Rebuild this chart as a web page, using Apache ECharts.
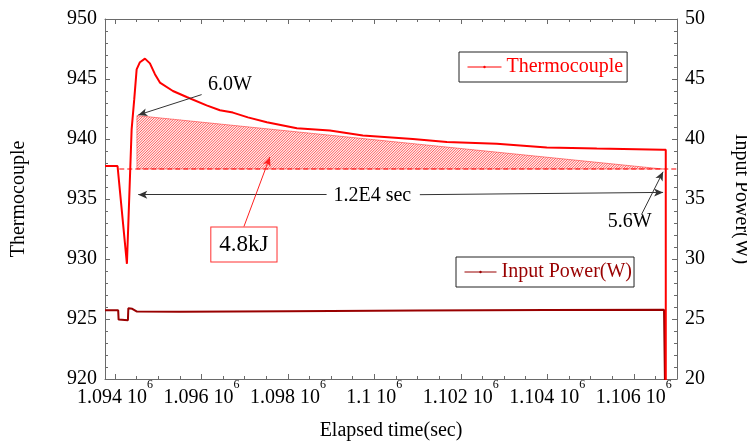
<!DOCTYPE html>
<html>
<head>
<meta charset="utf-8">
<script src="https://cdn.jsdelivr.net/npm/echarts@6/dist/echarts.min.js"></script>
<style>
  html, body { margin: 0; padding: 0; background: #fff; }
  #main { width: 747px; height: 445px; }
</style>
</head>
<body>
<div id="main"></div>
<script>
// thermocouple reading (time in s, temperature)
var thermoTime = [1093770, 1094060, 1094085, 1094277, 1094386, 1094446, 1094502, 1094578, 1094694, 1094809,
    1094925, 1095040, 1095341, 1095658, 1096120, 1096428, 1096728, 1097075, 1097514, 1098208, 1098971,
    1099734, 1100890, 1101676, 1102832, 1103988, 1105145, 1106671, 1106740, 1106742];
var thermoTemp = [937.75, 937.75, 937.6, 929.6, 940.8, 943.3, 945.8, 946.4, 946.7, 946.3,
    945.4, 944.7, 944.0, 943.5, 942.8, 942.4, 942.2, 941.8, 941.4, 940.9, 940.7,
    940.3, 940.0, 939.75, 939.6, 939.3, 939.2, 939.1, 939.1, 900];

// input power (time in s, W)
var powerTime = [1093770, 1094075, 1094085, 1094300, 1094310, 1094400, 1094510, 1095500, 1098000, 1101000, 1104000, 1106700, 1106740, 1106742];
var powerVal = [25.72, 25.72, 24.95, 24.9, 25.9, 25.85, 25.62, 25.6, 25.65, 25.7, 25.74, 25.77, 25.77, 14];

// hatched energy region
var hatchTime = [1094509, 1094509, 1106671];
var hatchTemp = [937.5, 941.95, 937.5];
var baseTime = [1094100, 1107000];
var baseTemp = [937.5, 937.5];

// axis ticks
var xMajor = [1094000, 1096000, 1098000, 1100000, 1102000, 1104000, 1106000];
var xMajorLabels = ['1.094', '1.096', '1.098', '1.1', '1.102', '1.104', '1.106'];

// annotations
var noteText = ['6.0W', '1.2E4 sec', '5.6W', '4.8kJ'];
var noteTime = [1096659, 1099954, 1105908, 1096983];
var noteTemp = [944.5, 935.3, 933.1, 931.2];
var arrowFrom = [[1096005, 943.7], [1098895, 935.36], [1101052, 935.36], [1106178, 933.7], [1096983, 932.7]];
var arrowTo = [[1094539, 942.0], [1094539, 935.36], [1106678, 935.55], [1106678, 937.27], [1097584, 938.5]];

var FONT = 'Liberation Serif';
var GRAY = '#6a6a6a';

var xMinor = [];
xMajor.forEach(function (m) {
    [500, 1000, 1500].forEach(function (d) { xMinor.push(m + d); });
});

function zip(a, b) {
    return a.map(function (v, i) { return [v, b[i]]; });
}

// diagonal hatch lines clipped to a convex polygon (pixel space)
function hatchLines(pts, step) {
    var ks = pts.map(function (p) { return p[0] + p[1]; });
    var kMin = Math.min.apply(null, ks), kMax = Math.max.apply(null, ks);
    var out = [];
    for (var k = kMin + step / 2; k < kMax; k += step) {
        var hits = [];
        for (var i = 0; i < pts.length; i++) {
            var P = pts[i], Q = pts[(i + 1) % pts.length];
            var fp = P[0] + P[1] - k, fq = Q[0] + Q[1] - k;
            if ((fp <= 0 && fq > 0) || (fp > 0 && fq <= 0)) {
                var t = fp / (fp - fq);
                hits.push([P[0] + t * (Q[0] - P[0]), P[1] + t * (Q[1] - P[1])]);
            }
        }
        if (hits.length >= 2) {
            hits.sort(function (a, b) { return a[0] - b[0]; });
            var a = hits[0], b = hits[hits.length - 1];
            out.push({
                type: 'line', shape: { x1: a[0], y1: a[1], x2: b[0], y2: b[1] },
                style: { stroke: 'rgba(255,30,30,0.7)', lineWidth: 1 }
            });
        }
    }
    return out;
}

function xAxisBase(pos, ticks, len, showLine) {
    return {
        type: 'value', position: pos, min: 1093770, max: 1107000,
        axisLine: { show: showLine, onZero: false, lineStyle: { color: GRAY, width: 1 } },
        axisTick: { show: true, inside: true, length: len, customValues: ticks, lineStyle: { color: GRAY } },
        axisLabel: { show: false },
        splitLine: { show: false }
    };
}

var xMain = xAxisBase('bottom', xMajor, 5, true);
xMain.axisLabel = {
    show: true, customValues: xMajor, margin: 0,
    formatter: function (v) {
        var i = xMajor.indexOf(v);
        return '{m|' + xMajorLabels[i] + ' 10}{s|6}';
    },
    rich: {
        m: { fontSize: 20, fontFamily: FONT, color: '#000', padding: [9, 0, 0, 0], verticalAlign: 'bottom' },
        s: { fontSize: 12, fontFamily: FONT, color: '#000', verticalAlign: 'top' }
    }
};
xMain.name = 'Elapsed time(sec)';
xMain.nameLocation = 'middle';
xMain.nameGap = 42;
xMain.nameTextStyle = { fontSize: 20, fontFamily: FONT, color: '#000' };

function yAxisBase(pos, min, max, name, gap, rot) {
    return {
        type: 'value', position: pos, min: min, max: max, interval: 5,
        axisLine: { show: true, lineStyle: { color: GRAY, width: 1 } },
        axisTick: { show: true, inside: true, length: 5, lineStyle: { color: GRAY } },
        minorTick: { show: true, splitNumber: 5, length: 3, lineStyle: { color: GRAY } },
        axisLabel: { fontSize: 20, fontFamily: FONT, color: '#000', margin: 8 },
        splitLine: { show: false },
        name: name, nameLocation: 'middle', nameGap: gap, nameRotate: rot,
        nameTextStyle: { fontSize: 20, fontFamily: FONT, color: '#000' }
    };
}

var chart = echarts.init(document.getElementById('main'));

var markLines = arrowFrom.map(function (f, i) {
    var c = i === 4 ? '#ff2020' : '#333';
    return [
        { coord: f, symbol: 'none', lineStyle: { color: c, width: 1, type: 'solid' } },
        { coord: arrowTo[i], symbol: 'arrow', symbolSize: [6, 9] }
    ];
});

var notes = noteText.map(function (t, i) {
    var lab = { show: true, position: 'inside', formatter: t, fontSize: 20, fontFamily: FONT, color: '#000' };
    if (t === '4.8kJ') {
        lab.fontSize = 23;
        lab.borderColor = '#ff3030';
        lab.borderWidth = 1;
        lab.backgroundColor = '#fff';
        lab.padding = [6, 8, 5, 8];
    }
    return { name: t, coord: [noteTime[i], noteTemp[i]], label: lab };
});

chart.setOption({
    animation: false,
    textStyle: { fontFamily: FONT },
    grid: { left: 105, right: 70, top: 19, bottom: 66, containLabel: false, outerBoundsMode: 'none' },
    legend: [
        {
            data: ['Thermocouple'], left: 459, top: 52, padding: [5, 4, 5, 8], itemWidth: 34, itemHeight: 3,
            borderColor: '#222', borderWidth: 1, selectedMode: false,
            lineStyle: { width: 1 },
            textStyle: { color: '#ff0000', fontSize: 20, fontFamily: FONT }
        },
        {
            data: ['Input Power(W)'], left: 456, top: 257, padding: [5, 2, 5, 8], itemWidth: 32, itemHeight: 3,
            borderColor: '#222', borderWidth: 1, selectedMode: false,
            lineStyle: { width: 1 },
            textStyle: { color: '#990000', fontSize: 20, fontFamily: FONT }
        }
    ],
    xAxis: [
        xMain,
        xAxisBase('bottom', xMinor, 3, false),
        xAxisBase('top', xMajor, 5, true),
        xAxisBase('top', xMinor, 3, false)
    ],
    yAxis: [
        yAxisBase('left', 920, 950, 'Thermocouple', 76, 90),
        yAxisBase('right', 20, 50, 'Input Power(W)', 54, -90)
    ],
    series: [
        {
            type: 'custom', name: 'hatch', xAxisIndex: 0, yAxisIndex: 0,
            data: [[hatchTime[0], hatchTemp[0]]],
            renderItem: function (params, api) {
                var pts = hatchTime.map(function (t, i) { return api.coord([t, hatchTemp[i]]); });
                var kids = [{
                    type: 'polygon', shape: { points: pts },
                    style: { fill: 'rgba(255,0,0,0.08)', stroke: 'rgba(255,0,0,0.45)', lineWidth: 1 }
                }].concat(hatchLines(pts, 2.6));
                return { type: 'group', children: kids };
            },
            z: 1
        },
        {
            type: 'line', name: 'baseline', xAxisIndex: 0, yAxisIndex: 0,
            data: zip(baseTime, baseTemp), showSymbol: false, symbol: 'none',
            lineStyle: { color: '#ff0000', width: 1, type: [5, 3] },
            z: 2
        },
        {
            type: 'line', name: 'Thermocouple', xAxisIndex: 0, yAxisIndex: 0,
            data: zip(thermoTime, thermoTemp),
            showSymbol: false, symbol: 'circle', symbolSize: 3,
            lineStyle: { color: '#ff0000', width: 2 }, itemStyle: { color: '#ff0000' },
            z: 3,
            markLine: {
                silent: true, symbol: ['none', 'arrow'], label: { show: false },
                data: markLines
            },
            markPoint: {
                silent: true, symbol: 'circle', symbolSize: 1, itemStyle: { color: 'rgba(0,0,0,0)' },
                data: notes
            }
        },
        {
            type: 'line', name: 'Input Power(W)', xAxisIndex: 0, yAxisIndex: 1,
            data: zip(powerTime, powerVal),
            showSymbol: false, symbol: 'circle', symbolSize: 3,
            lineStyle: { color: '#990000', width: 2 }, itemStyle: { color: '#990000' },
            z: 2
        }
    ]
});
</script>
</body>
</html>
